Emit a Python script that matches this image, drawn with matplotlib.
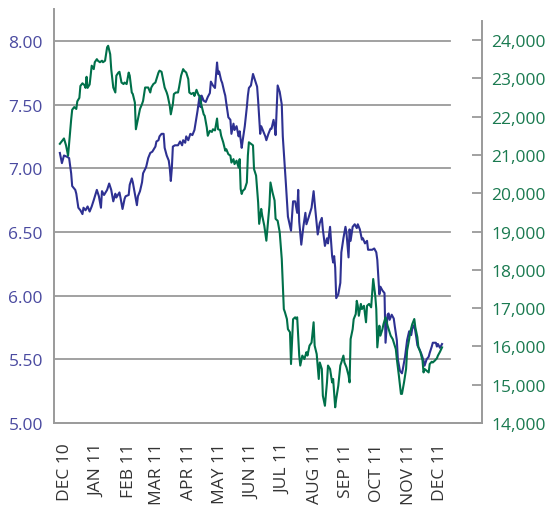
import matplotlib
matplotlib.use("Agg")
import matplotlib.pyplot as plt
import matplotlib.ticker as mticker
import pandas as pd

plt.rcParams['font.family'] = ['Open Sans', 'DejaVu Sans']

start = pd.Timestamp('2010-12-01')

# left axis series (yield, %), days counted from 1 Dec 2010
blue_days = [-5, -3, -1, 2, 4, 6, 7, 10, 11, 13, 15, 17, 18, 20, 22, 24, 26, 28, 31, 33,
             35, 36, 38, 41, 43, 45, 47, 49, 50, 53, 54, 56, 58, 59, 62, 63, 65, 66, 68, 70,
             71, 73, 75, 76, 79, 81, 83, 85, 88, 89, 91, 92, 94, 96, 97, 99, 101, 102, 103, 104,
             105, 107, 110, 112, 114, 115, 117, 118, 120, 122, 124, 126, 127, 129, 131, 132, 133, 135, 137, 139,
             141, 142, 144, 146, 148, 149, 150, 152, 153, 155, 156, 157, 159, 161, 162, 164, 165, 167, 169, 170,
             172, 173, 175, 177, 178, 179, 181, 183, 185, 187, 188, 190, 191, 193, 195, 196, 198, 200, 201, 203,
             204, 205, 207, 209, 211, 212, 214, 215, 217, 220, 222, 224, 226, 227, 228, 230, 232, 234, 235, 237,
             240, 242, 243, 246, 248, 250, 251, 253, 255, 256, 258, 260, 261, 262, 263, 264, 266, 268, 269, 271,
             273, 274, 276, 277, 278, 280, 282, 284, 285, 287, 289, 290, 292, 294, 295, 297, 299, 301, 303, 304,
             306, 307, 309, 311, 312, 314, 315, 316, 318, 320, 321, 323, 324, 326, 328, 329, 331, 333, 335, 337,
             338, 340, 342, 343, 345, 347, 349, 350, 352, 354, 355, 357, 358, 361, 362, 363, 365, 367]
blue_vals = [7.12, 7.04, 7.10, 7.09, 7.08, 6.96, 6.86, 6.83, 6.80, 6.69, 6.67, 6.64, 6.69, 6.67, 6.70, 6.66, 6.70, 6.75, 6.83, 6.78,
             6.69, 6.82, 6.79, 6.83, 6.88, 6.83, 6.74, 6.80, 6.77, 6.81, 6.77, 6.68, 6.76, 6.78, 6.79, 6.87, 6.92, 6.89, 6.80, 6.71,
             6.78, 6.82, 6.89, 6.96, 7.01, 7.08, 7.12, 7.13, 7.17, 7.21, 7.22, 7.25, 7.27, 7.27, 7.16, 7.10, 7.06, 7.00, 6.90, 7.00,
             7.17, 7.18, 7.18, 7.21, 7.18, 7.22, 7.20, 7.25, 7.22, 7.27, 7.26, 7.30, 7.35, 7.45, 7.57, 7.48, 7.57, 7.53, 7.52, 7.56,
             7.59, 7.68, 7.65, 7.63, 7.83, 7.74, 7.76, 7.69, 7.67, 7.60, 7.57, 7.51, 7.40, 7.38, 7.27, 7.35, 7.30, 7.33, 7.25, 7.29,
             7.16, 7.22, 7.33, 7.48, 7.57, 7.63, 7.65, 7.74, 7.69, 7.64, 7.53, 7.27, 7.33, 7.29, 7.25, 7.22, 7.27, 7.31, 7.31, 7.38,
             7.33, 7.26, 7.65, 7.60, 7.50, 7.25, 7.01, 6.88, 6.62, 6.51, 6.74, 6.74, 6.65, 6.83, 6.58, 6.40, 6.54, 6.65, 6.56, 6.61,
             6.69, 6.82, 6.73, 6.48, 6.57, 6.61, 6.52, 6.39, 6.45, 6.41, 6.54, 6.31, 6.26, 6.31, 6.22, 5.98, 6.01, 6.10, 6.34, 6.45,
             6.54, 6.49, 6.30, 6.52, 6.43, 6.54, 6.56, 6.53, 6.56, 6.52, 6.44, 6.45, 6.41, 6.43, 6.36, 6.36, 6.36, 6.37, 6.34, 6.28,
             6.01, 6.07, 6.04, 6.02, 5.63, 5.85, 5.86, 5.81, 5.85, 5.82, 5.76, 5.65, 5.50, 5.41, 5.39, 5.43, 5.52, 5.65, 5.72, 5.69,
             5.74, 5.77, 5.67, 5.61, 5.58, 5.54, 5.49, 5.45, 5.50, 5.52, 5.55, 5.60, 5.63, 5.63, 5.60, 5.62, 5.59, 5.62]

# right axis series (index level)
green_days = [-5, -1, 1, 3, 6, 7, 9, 11, 12, 14, 15, 17, 19, 20, 21, 22, 24, 26, 28, 29,
              31, 32, 34, 36, 37, 39, 41, 42, 44, 45, 47, 49, 50, 52, 53, 55, 57, 58, 60, 62,
              63, 65, 66, 68, 69, 71, 73, 75, 76, 78, 80, 81, 83, 84, 86, 88, 89, 91, 92, 94,
              96, 97, 99, 100, 102, 103, 105, 106, 108, 110, 111, 113, 115, 116, 118, 120, 121, 123, 125, 126,
              128, 130, 131, 133, 135, 136, 138, 139, 141, 143, 144, 146, 148, 149, 151, 152, 154, 156, 157, 159,
              161, 162, 164, 165, 167, 169, 170, 171, 172, 173, 175, 177, 178, 179, 181, 183, 184, 186, 188, 189,
              191, 192, 194, 196, 197, 199, 200, 202, 204, 205, 207, 209, 210, 211, 213, 214, 216, 217, 219, 220,
              222, 224, 225, 226, 228, 229, 231, 233, 235, 236, 238, 240, 242, 243, 245, 247, 248, 250, 251, 253,
              255, 256, 258, 260, 261, 263, 264, 266, 268, 269, 271, 272, 274, 276, 277, 278, 280, 281, 283, 284,
              285, 286, 288, 289, 291, 293, 294, 296, 298, 300, 302, 303, 304, 306, 307, 309, 310, 312, 314, 315,
              317, 319, 320, 322, 323, 325, 327, 328, 330, 332, 333, 335, 336, 338, 340, 341, 343, 344, 346, 348,
              349, 350, 352, 354, 355, 357, 358, 360, 362, 363, 365, 367]
green_vals = [21290, 21430, 21250, 20980, 21920, 22180, 22250, 22200, 22400, 22490, 22800, 22870, 22820, 22750, 23040, 22750, 22840, 23330, 23240, 23420,
              23500, 23460, 23420, 23460, 23420, 23460, 23810, 23850, 23630, 23240, 22760, 22630, 23070, 23150, 23170, 22890, 22850, 22890, 22850, 23150,
              23070, 22630, 22590, 22370, 21670, 21930, 22200, 22330, 22410, 22760, 22760, 22760, 22630, 22760, 22850, 22890, 22980, 23150, 23200, 23170,
              22890, 22760, 22630, 22540, 22280, 22060, 22330, 22590, 22630, 22630, 22760, 23070, 23240, 23200, 23150, 22980, 22630, 22590, 22620, 22540,
              22700, 22560, 22540, 22280, 22060, 22020, 21720, 21500, 21630, 21600, 21670, 21640, 21950, 21670, 21650, 21500, 21330, 21110, 21150, 21020,
              20980, 20800, 20890, 20760, 20850, 20670, 20890, 20110, 19980, 20060, 20110, 20280, 20980, 21330, 21290, 21250, 20630, 20460, 19760, 19200,
              19590, 19410, 19150, 18760, 19070, 19680, 20280, 20020, 19810, 19330, 19280, 18980, 18630, 18280, 16975, 16900, 16715, 16450, 16370, 15540,
              16710, 16760, 16720, 16760, 15760, 15500, 15760, 15670, 15850, 15760, 16020, 16100, 16630, 16020, 15800, 15150, 15580, 15410, 14710, 14450,
              15060, 15500, 15410, 15060, 15150, 14410, 14630, 14970, 15500, 15580, 15760, 15580, 15450, 15240, 15060, 16190, 16450, 16710, 16845, 17190,
              17060, 16800, 17110, 16975, 17060, 16630, 17060, 17110, 17020, 17760, 17320, 16975, 15975, 16540, 16280, 16450, 16580, 16760, 16540, 16450,
              16280, 16190, 16100, 15930, 15670, 15235, 14760, 14760, 15060, 15410, 15890, 16190, 16370, 16580, 16715, 16500, 16240, 15975, 15845, 15630,
              15320, 15410, 15365, 15320, 15540, 15600, 15580, 15630, 15690, 15760, 15860, 15975]

month_labels = ['DEC 10', 'JAN 11', 'FEB 11', 'MAR 11', 'APR 11', 'MAY 11', 'JUN 11',
                'JUL 11', 'AUG 11', 'SEP 11', 'OCT 11', 'NOV 11', 'DEC 11']
left_ticks = [5.0, 5.5, 6.0, 6.5, 7.0, 7.5, 8.0]
right_ticks = [14000, 15000, 16000, 17000, 18000, 19000, 20000, 21000, 22000, 23000, 24000]

blue = '#2e3192'
green = '#00704a'
grey = '#9a9a9a'

blue_dates = [start + pd.Timedelta(days=d) for d in blue_days]
green_dates = [start + pd.Timedelta(days=d) for d in green_days]
months = pd.date_range(start, periods=len(month_labels), freq='MS')

fig = plt.figure(figsize=(5.5, 5.06), dpi=100)
ax = fig.add_axes([54 / 550, 82 / 506, 428 / 550, 414 / 506])
ax2 = ax.twinx()

# gridlines stop short of the right-hand axis
for v in left_ticks[1:]:
    ax.axhline(v, xmin=0, xmax=0.925, color=grey, lw=1.3, zorder=0)

ax.plot(blue_dates, blue_vals, color=blue, lw=1.5, zorder=3)
ax2.plot(green_dates, green_vals, color=green, lw=1.5)

ax.set_xlim(start - pd.Timedelta(days=10.7), start + pd.Timedelta(days=405.9))
ax.set_ylim(5, 8.25)
ax2.set_ylim(14000, 24810)

for s in ['top', 'right']:
    ax.spines[s].set_visible(False)
for s in ['top', 'left', 'bottom']:
    ax2.spines[s].set_visible(False)
for s in ['left', 'bottom']:
    ax.spines[s].set_color(grey)
    ax.spines[s].set_linewidth(1.4)
ax2.spines['right'].set_color(grey)
ax2.spines['right'].set_linewidth(1.4)
ax2.spines['right'].set_bounds(14000, 24500)

ax.set_yticks(left_ticks)
ax.yaxis.set_major_formatter(mticker.FormatStrFormatter('%.2f'))
ax.tick_params(axis='y', length=0, pad=8, labelcolor='#4a4aa0', labelsize=12.5)

ax2.set_yticks(right_ticks)
ax2.yaxis.set_major_formatter(mticker.FuncFormatter(lambda v, p: f'{v:,.0f}'))
ax2.tick_params(axis='y', direction='in', length=7, width=1.3, color=grey,
                pad=6.5, labelcolor='#1a7a50', labelsize=12.5)

ax.set_xticks(months)
ax.set_xticklabels(month_labels, rotation=90, va='top', ha='center')
ax.tick_params(axis='x', length=0, pad=14, labelcolor='#333333', labelsize=12.5)

fig.savefig('out.png', dpi=100)
